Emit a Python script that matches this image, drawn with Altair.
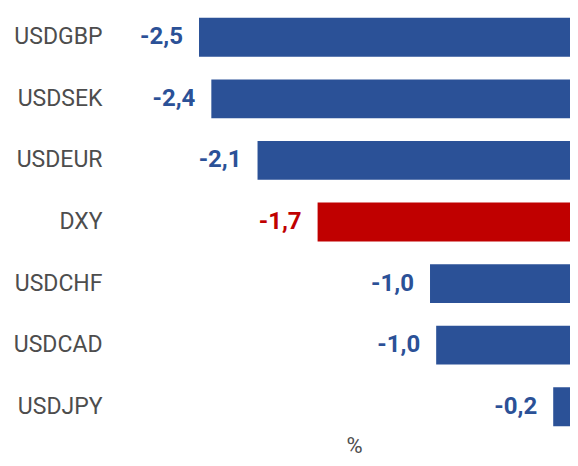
import altair as alt
import pandas as pd

pairs = ["USDGBP", "USDSEK", "USDEUR", "DXY", "USDCHF", "USDCAD", "USDJPY"]
values = [-2.50, -2.42, -2.12, -1.73, -1.00, -0.96, -0.20]
colors = ["#2B5197", "#2B5197", "#2B5197", "#C00000", "#2B5197", "#2B5197", "#2B5197"]

df = pd.DataFrame({"pair": pairs, "value": values, "color": colors})
df["label"] = [f"{v:.1f}".replace(".", ",") for v in values]

y = alt.Y("pair:N", sort=pairs,
          scale=alt.Scale(paddingInner=0.37, paddingOuter=0.16),
          axis=alt.Axis(title=None, ticks=False, domain=False, labelPadding=8,
                        labelFont="Roboto", labelFontSize=23, labelColor="#4D4D4D",
                        labelAlign="right"))
x = alt.X("value:Q", scale=alt.Scale(domain=[-3.078, -0.091], nice=False, zero=False),
          axis=alt.Axis(title="%", labels=False, ticks=False, domain=False, grid=False,
                        titleFont="Roboto", titleFontSize=22, titleFontWeight="normal",
                        titleColor="#4D4D4D", titleX=244, titleY=9,
                        titleAlign="center", titleBaseline="middle"))

bars = alt.Chart(df).mark_bar(clip=True).encode(
    y=y, x=x, x2=alt.datum(0),
    color=alt.Color("color:N", scale=None))

text = alt.Chart(df).mark_text(align="right", baseline="middle", dx=-16,
                               font="Roboto", fontSize=24, fontWeight="bold").encode(
    y=y, x=x, text="label:N", color=alt.Color("color:N", scale=None))

chart = (bars + text).properties(
    width=460, height=428,
    autosize=alt.AutoSizeParams(type="none"),
    padding={"left": 102, "top": 0, "right": 0, "bottom": 22},
).configure_view(stroke=None)

chart.save("out.html", embed_options={"renderer": "svg", "actions": False})
